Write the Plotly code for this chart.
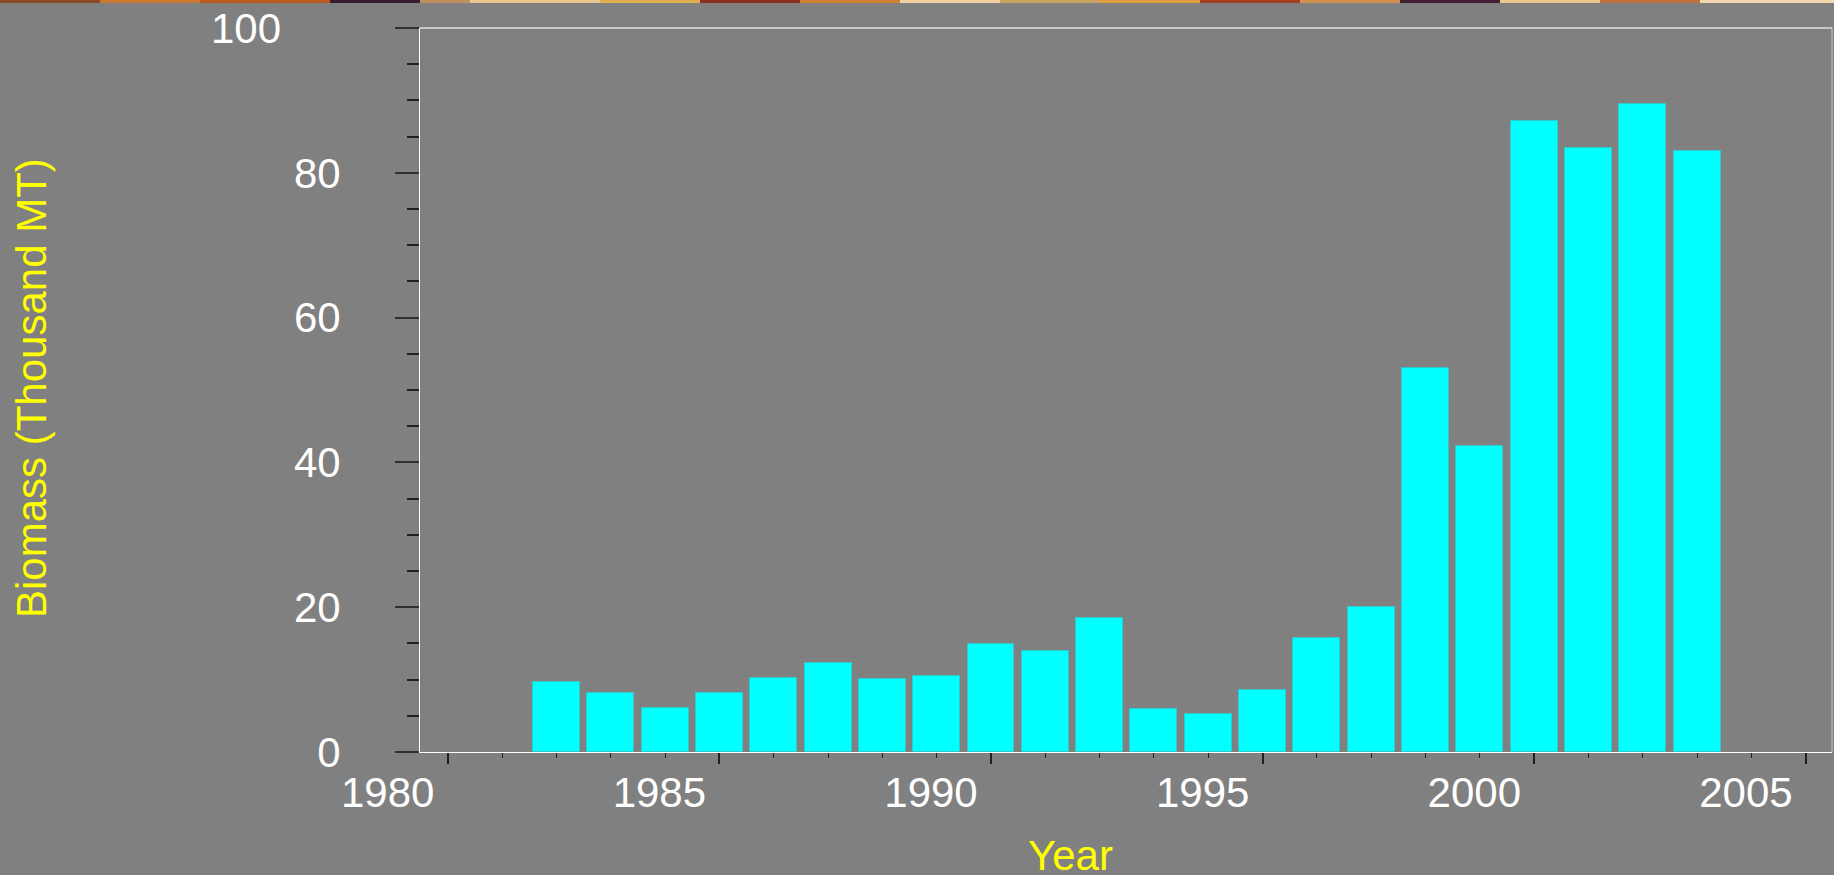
import plotly.graph_objects as go

# biomass by year (thousand MT)
years = list(range(1982, 2004))
biomass = [9.7, 8.1, 6.1, 8.2, 10.2, 12.3, 10.1, 10.5, 14.9, 13.9, 18.5,
           6.0, 5.2, 8.6, 15.8, 20.0, 53.0, 42.2, 87.2, 83.4, 89.5, 83.0]

x_ticks = [1980, 1985, 1990, 1995, 2000, 2005]
y_ticks = [0, 20, 40, 60, 80, 100]
y_labels = ['0', '20', '40', '60', '80', '']

W, H = 1834, 875
L, R, T, B = 420, 2, 28, 123
FONT = 'Liberation Sans, Arial, sans-serif'
FS = 42

fig = go.Figure()
fig.add_trace(go.Bar(
    x=years,
    y=biomass,
    width=0.865,
    marker=dict(color='#00ffff', line=dict(color='#30c8c8', width=1)),
    hovertemplate='Year: %{x}<br>Biomass: %{y:.1f}<extra></extra>'
))

fig.update_layout(
    width=W, height=H,
    margin=dict(l=L, r=R, t=T, b=B),
    paper_bgcolor='#808080',
    plot_bgcolor='#808080',
    font=dict(family=FONT, size=FS, color='white'),
    showlegend=False,
    bargap=0,
)

fig.update_xaxes(
    range=[1979.49, 2005.48],
    tickvals=x_ticks,
    ticks='outside', ticklen=11, tickwidth=2, tickcolor='#202020',
    minor=dict(dtick=1, tick0=1980, ticks='outside', ticklen=5, tickwidth=1, tickcolor='#202020'),
    ticklabelshift=-60,
    ticklabelstandoff=-7,
    showline=True, linecolor='white', linewidth=1,
    showgrid=False, zeroline=False,
    tickfont=dict(family=FONT, size=FS, color='white'),
)

fig.update_yaxes(
    range=[0, 100],
    tickvals=y_ticks, ticktext=y_labels,
    ticks='outside', ticklen=24, tickwidth=2, tickcolor='#303030',
    minor=dict(dtick=5, tick0=0, ticks='outside', ticklen=12, tickwidth=2, tickcolor='#202020'),
    ticklabelstandoff=46,
    showline=True, linecolor='white', linewidth=1,
    showgrid=False, zeroline=False,
    tickfont=dict(family=FONT, size=FS, color='white'),
)

# light frame on top and right
fig.add_shape(type='line', xref='paper', yref='paper', x0=0, x1=1, y0=1, y1=1,
              line=dict(color='#c8c8c8', width=2))
fig.add_shape(type='line', xref='paper', yref='paper', x0=1, x1=1, y0=0, y1=1,
              line=dict(color='#c8c8c8', width=1))

# the "100" label sits further left than the others
fig.add_annotation(text='100', xref='paper', yref='y', x=0, y=100,
                   xanchor='right', yanchor='middle', xshift=-137, showarrow=False,
                   font=dict(family=FONT, size=FS, color='white'))

# axis titles (yellow), offset like the original
fig.add_annotation(text='Year', xref='paper', yref='paper', x=(1070 - L) / (W - L - R), y=0,
                   xanchor='center', yanchor='top', yshift=-78, showarrow=False,
                   font=dict(family=FONT, size=FS, color='yellow'))
fig.add_annotation(text='Biomass (Thousand MT)', xref='paper', yref='paper',
                   x=0, xshift=32 - L, y=(H - B - 388) / (H - B - T),
                   xanchor='center', yanchor='middle', textangle=-90, showarrow=False,
                   font=dict(family=FONT, size=FS, color='yellow'))

# thin photo strip along the top edge
strip_edges = [0, 100, 200, 330, 420, 470, 600, 700, 800, 900, 1000, 1100,
               1200, 1300, 1400, 1500, 1600, 1700, 1834]
strip_colors = ['#8a4a2a', '#c87a30', '#b85a20', '#3a1a30', '#c09060', '#e8c890',
                '#e0b050', '#8a3020', '#d08030', '#f0d0a0', '#c8a060', '#e0a040',
                '#a04020', '#d09050', '#402030', '#e8c890', '#c07040', '#f0d8b0']
pw = W - L - R
for i, c in enumerate(strip_colors):
    fig.add_shape(type='rect', xref='paper', yref='paper',
                  x0=(strip_edges[i] - L) / pw, x1=(strip_edges[i + 1] - L) / pw,
                  ysizemode='pixel', yanchor=1, y0=T - 3, y1=T + 2,
                  fillcolor=c, line=dict(width=0), layer='above')

fig.write_html('out.html', config={'displayModeBar': False},
               post_script="document.body.style.margin='0';document.body.style.overflow='hidden';")
